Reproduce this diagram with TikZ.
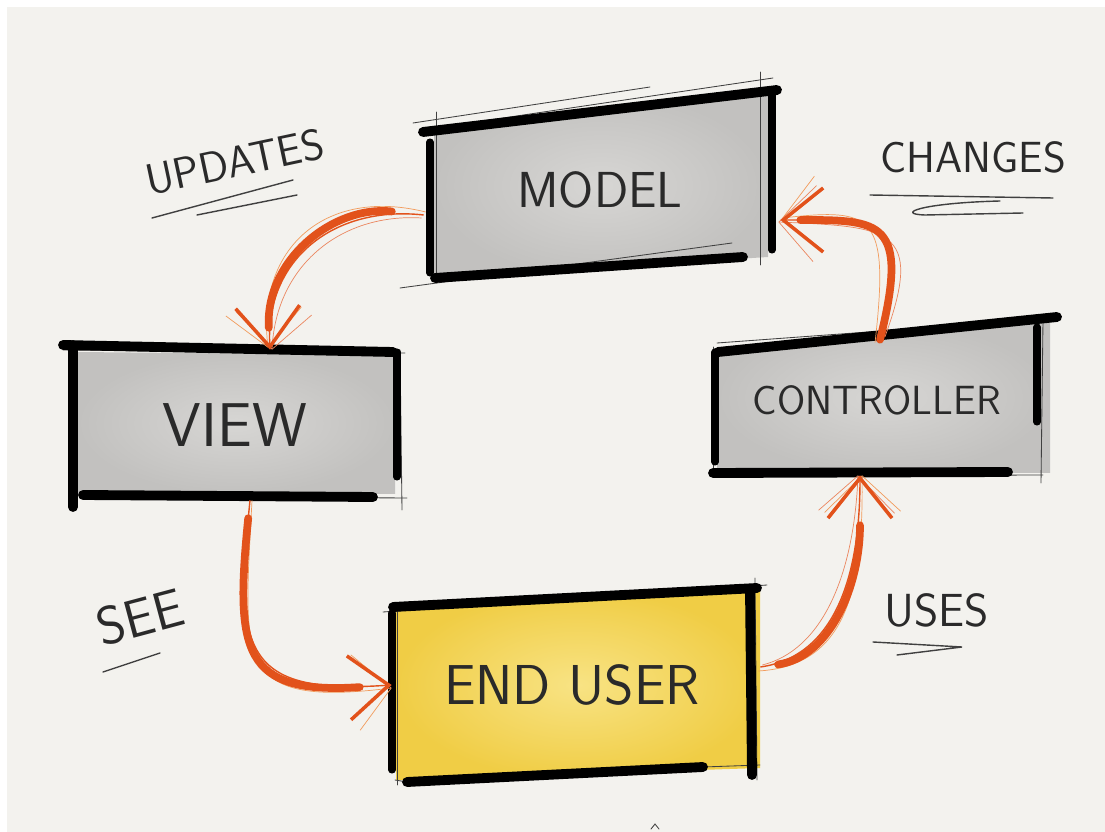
\documentclass[tikz,border=0pt]{standalone}
\usepackage{xcolor}
\usetikzlibrary{arrows.meta}
\usetikzlibrary{calc}

\definecolor{paper}{HTML}{F3F2EE}
\definecolor{grayin}{HTML}{D7D6D4}
\definecolor{grayout}{HTML}{C2C1BF}
\definecolor{yellowin}{HTML}{F8E384}
\definecolor{yellowout}{HTML}{F0CD45}
\definecolor{flowred}{HTML}{E2521B}
\definecolor{flowlight}{HTML}{F29B5C}
\definecolor{ink}{HTML}{2A2A2A}

\tikzset{
  box/.style={rectangle, inner sep=0pt, text=ink},
  hand/.style={text=ink, inner sep=0pt},
  heavy/.style={line width=7pt, line cap=round, black},
  side/.style={line width=5pt, line cap=round, black},
  hair/.style={line width=0.6pt, line cap=round, black!75},
  flow/.style={line width=1pt, flowred, -{Straight Barb[length=1cm, width=1.6cm, line width=2.5pt]}},
  flowthick/.style={line width=5.5pt, line cap=round, flowred},
  flowthin/.style={line width=0.5pt, flowlight, -{Straight Barb[length=0.9cm, width=1.9cm]}},
}

\begin{document}
\begin{tikzpicture}[x=0.025cm, y=-0.025cm]
      \useasboundingbox (0,0) rectangle (1105,832);
      \fill[white] (0,0) rectangle (1105,832);
      \fill[paper] (7,7) rectangle (1105,832);

      % washes
      \shade[inner color=grayin, outer color=grayout] (434,135) -- (768,93) -- (768,257) -- (434,278) -- cycle;
      \shade[inner color=grayin, outer color=grayout] (77,352) -- (395,355) -- (395,494) -- (77,494) -- cycle;
      \shade[inner color=grayin, outer color=grayout] (717,352) -- (1050,322) -- (1050,473) -- (717,473) -- cycle;
      \shade[inner color=yellowin, outer color=yellowout] (396,607) -- (760,590) -- (760,768) -- (396,780) -- cycle;

      \node[box, minimum width=8.5cm, minimum height=4.5cm, font=\sffamily\fontsize{36}{36}\selectfont] (model) at (600,190) {MODEL};
      \node[box, minimum width=8.125cm, minimum height=3.75cm, font=\sffamily\fontsize{44}{44}\selectfont] (view) at (235,425) {VIEW};
      \node[box, minimum width=8.125cm, minimum height=3.75cm, font=\sffamily\fontsize{29}{29}\selectfont] (controller) at (877,400) {CONTROLLER};
      \node[box, minimum width=9cm, minimum height=4.75cm, font=\sffamily\fontsize{40}{40}\selectfont] (enduser) at (572,685) {END USER};

      % model strokes
      \draw[hair] (413,123) -- (650,87);
      \draw[hair] (422,130) -- (773,78);
      \draw[hair] (436,112) -- (436,283);
      \draw[hair] (760,72) -- (760,265);
      \draw[hair] (400,288) -- (732,243);
      \draw[heavy] (423,132) -- (777,90);
      \draw[side] (430,142) -- (430,273);
      \draw[side] (772,92) -- (772,250);
      \draw[heavy] (435,278) -- (743,257);

      % view strokes
      \draw[hair] (63,350) -- (405,353);
      \draw[hair] (400,350) -- (402,510);
      \draw[hair] (83,496) -- (407,498);
      \draw[heavy] (63,345) -- (393,352);
      \draw[heavy] (73,345) -- (73,507);
      \draw[side] (397,352) -- (397,477);
      \draw[heavy] (83,495) -- (373,497);

      % controller strokes
      \draw[hair] (717,343) -- (1060,318);
      \draw[hair] (713,347) -- (713,470);
      \draw[hair] (1043,320) -- (1041,483);
      \draw[hair] (710,476) -- (1043,475);
      \draw[heavy] (718,352) -- (1057,317);
      \draw[side] (715,352) -- (715,462);
      \draw[side] (1037,327) -- (1037,422);
      \draw[heavy] (713,473) -- (1008,472);

      % end user strokes
      \draw[hair] (383,612) -- (767,585);
      \draw[hair] (397,610) -- (397,785);
      \draw[hair] (755,578) -- (757,780);
      \draw[hair] (395,780) -- (407,782);
      \draw[hair] (703,767) -- (760,765);
      \draw[heavy] (393,607) -- (757,588);
      \draw[side] (392,613) -- (392,770);
      \draw[heavy] (750,590) -- (752,775);
      \draw[heavy] (407,782) -- (703,767);

      % labels
      \node[hand, rotate=12, font=\sffamily\fontsize{31}{31}\selectfont] (updates) at (235,162) {UPDATES};
      \node[hand, font=\sffamily\fontsize{31}{31}\selectfont] (changes) at (973,157) {CHANGES};
      \node[hand, rotate=15, font=\sffamily\fontsize{38}{38}\selectfont] (see) at (140,617) {SEE};
      \node[hand, font=\sffamily\fontsize{33}{33}\selectfont] (uses) at (937,610) {USES};

      \draw[hair, line width=1pt] (152,218) -- (293,180);
      \draw[hair, line width=1pt] (197,215) -- (297,195);
      \draw[hair, line width=1pt] (870,195) -- (1053,198);
      \draw[hair, line width=1pt] (1000,201) .. controls (920,203) and (895,214) .. (925,215) -- (1023,213);
      \draw[hair, line width=1pt] (103,672) -- (160,653);
      \draw[hair, line width=1pt] (873,642) -- (962,647) -- (897,655);
      \draw[hair] (651,829) -- (655,824) -- (659,829);

      % updates
      \draw[flowthin] ($(model.west)+(-4,22)$) .. controls +(-100,-25) and +(-12,-100) .. ($(view.north)+(33,-2)$);
      \draw[flowthin, flowred!70] ($(model.west)+(-8,28)$) .. controls +(-80,-5) and +(4,-85) .. ($(view.north)+(37,0)$);
      \draw[flowthick, shorten <=0.8cm, shorten >=0.55cm] ($(model.west)+(-6,25)$) .. controls +(-90,-10) and +(-5,-90) .. ($(view.north)+(35,0)$);
      \draw[flow] ($(model.west)+(-6,25)$) .. controls +(-90,-10) and +(-5,-90) .. ($(view.north)+(35,0)$);

      % see
      \draw[flowthin] ($(view.south)+(17,0)$) .. controls +(-8,160) and +(-160,20) .. ($(enduser.west)+(0,3)$);
      \draw[flowthick, shorten <=0.45cm, shorten >=0.8cm] ($(view.south)+(15,0)$) .. controls +(-15,150) and +(-150,10) .. (enduser.west);
      \draw[flow] ($(view.south)+(15,0)$) .. controls +(-15,150) and +(-150,10) .. (enduser.west);

      % uses
      \draw[flowthin] ($(enduser.east)+(6,-14)$) .. controls +(85,-5) and +(2,120) .. ($(controller.south)+(-15,0)$);
      \draw[flowthin, flowred!70] ($(enduser.east)+(10,-20)$) .. controls +(60,-15) and +(-4,100) .. ($(controller.south)+(-19,0)$);
      \draw[flowthick, shorten <=0.45cm, shorten >=1.25cm] ($(enduser.east)+(8,-18)$) .. controls +(70,-10) and +(0,110) .. ($(controller.south)+(-17,0)$);
      \draw[flow] ($(enduser.east)+(8,-18)$) .. controls +(70,-10) and +(0,110) .. ($(controller.south)+(-17,0)$);

      % changes
      \draw[flowthin] ($(controller.north)+(-2,18)$) .. controls +(15,-130) and +(90,-10) .. ($(model.east)+(12,28)$);
      \draw[flowthin, flowred!70] ($(controller.north)+(8,12)$) .. controls +(40,-110) and +(110,5) .. ($(model.east)+(8,32)$);
      \draw[flowthick, shorten >=0.5cm] ($(controller.north)+(3,15)$) .. controls +(30,-120) and +(100,0) .. ($(model.east)+(10,30)$);
      \draw[flow] ($(controller.north)+(3,15)$) .. controls +(30,-120) and +(100,0) .. ($(model.east)+(10,30)$);
\end{tikzpicture}
\end{document}
